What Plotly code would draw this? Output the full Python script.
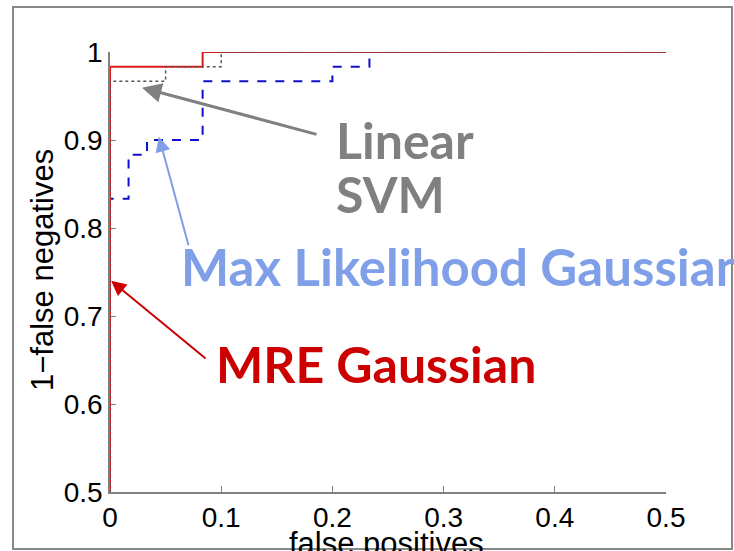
import plotly.graph_objects as go

# ROC step curves: false-positive rate vs. 1 - false-negative rate
fp_mle = [0, 0, 0.0167, 0.0333, 0.0833, 0.2, 0.2333, 0.5]
tp_mle = [0.5, 0.8333, 0.8833, 0.9, 0.9667, 0.9833, 1.0, 1.0]

fp_mre = [0, 0, 0.0833, 0.5]
tp_mre = [0.5, 0.9833, 1.0, 1.0]

fp_svm = [0, 0, 0.05, 0.1, 0.5]
tp_svm = [0.5, 0.9667, 0.9833, 1.0, 1.0]

x_ticks = [0, 0.1, 0.2, 0.3, 0.4, 0.5]
x_tick_labels = ["0", "0.1", "0.2", "0.3", "0.4", "0.5"]
y_ticks = [0.5, 0.6, 0.7, 0.8, 0.9, 1.0]
y_tick_labels = ["0.5", "0.6", "0.7", "0.8", "0.9", "1"]

W, H = 734, 551
L, R, T, B = 110, 68, 52, 59
PW, PH = W - L - R, H - T - B


def px_to_paper(px, py):
    return (px - L) / PW, (H - B - py) / PH


fig = go.Figure()
fig.add_trace(go.Scatter(x=fp_mle, y=tp_mle, mode="lines", line_shape="hv",
                         line=dict(color="#1010cc", width=2, dash="dash"),
                         name="Max Likelihood Gaussian"))
fig.add_trace(go.Scatter(x=fp_mre, y=tp_mre, mode="lines", line_shape="hv",
                         line=dict(color="#dd1a1a", width=2),
                         name="MRE Gaussian"))
fig.add_trace(go.Scatter(x=fp_svm, y=tp_svm, mode="lines", line_shape="hv",
                         line=dict(color="#555555", width=1.5, dash="dot"),
                         name="Linear SVM"))

label_font = "Lato"
annotations = [
    # callout labels
    dict(x=0.2013, y=0.9367, xref="x", yref="y", text="<b>Linear</b>",
         showarrow=False, xanchor="left", yanchor="top",
         font=dict(family=label_font, size=50, color="#808080")),
    dict(x=0.2013, y=0.8753, xref="x", yref="y", text="<b>SVM</b>",
         showarrow=False, xanchor="left", yanchor="top",
         font=dict(family=label_font, size=50, color="#808080")),
    dict(x=0.062, y=0.7935, xref="x", yref="y", text="<b>Max Likelihood Gaussian</b>",
         showarrow=False, xanchor="left", yanchor="top",
         font=dict(family=label_font, size=51, color="#7f9fe8")),
    dict(x=0.0935, y=0.682, xref="x", yref="y", text="<b>MRE Gaussian</b>",
         showarrow=False, xanchor="left", yanchor="top",
         font=dict(family=label_font, size=50, color="#cc0000")),
    # arrows pointing at the curves
    dict(x=0.0288, y=0.9594, xref="x", yref="y", text="", showarrow=True,
         ax=176, ay=47, arrowhead=2, arrowsize=1.3, arrowwidth=3, arrowcolor="#808080"),
    dict(x=0.044, y=0.9037, xref="x", yref="y", text="", showarrow=True,
         ax=30, ay=110, arrowhead=2, arrowsize=1.5, arrowwidth=2, arrowcolor="#7f9fe8"),
    dict(x=0.001, y=0.740, xref="x", yref="y", text="", showarrow=True,
         ax=96, ay=79, arrowhead=2, arrowsize=1.5, arrowwidth=2, arrowcolor="#cc0000"),
]

# axis titles
xt_x, xt_y = px_to_paper(386, 543)
annotations.append(dict(x=xt_x, y=xt_y, xref="paper", yref="paper", text="false positives",
                        showarrow=False, xanchor="center", yanchor="middle",
                        font=dict(family="Liberation Sans", size=31, color="black")))
yt_x, yt_y = px_to_paper(42, 270)
annotations.append(dict(x=yt_x, y=yt_y, xref="paper", yref="paper", text="1\u2212false negatives",
                        showarrow=False, xanchor="center", yanchor="middle", textangle=-90,
                        font=dict(family="Liberation Sans", size=31, color="black")))

# outer border of the figure
fx0, fy0 = px_to_paper(13, 549)
fx1, fy1 = px_to_paper(732, 7)

fig.update_layout(
    width=W, height=H, template="none",
    margin=dict(l=L, r=R, t=T, b=B, autoexpand=False),
    paper_bgcolor="white", plot_bgcolor="white",
    showlegend=False,
    font=dict(family="Liberation Sans", size=28, color="black"),
    xaxis=dict(range=[0, 0.5], tickvals=x_ticks, ticktext=x_tick_labels,
               ticks="inside", ticklen=6, tickcolor="#808080", tickwidth=1,
               showline=True, linecolor="#808080", linewidth=1.5,
               showgrid=False, zeroline=False, automargin=False, layer="below traces"),
    yaxis=dict(range=[0.5, 1.0], tickvals=y_ticks, ticktext=y_tick_labels,
               ticks="inside", ticklen=6, tickcolor="#808080", tickwidth=1,
               showline=True, linecolor="#808080", linewidth=1.5,
               showgrid=False, zeroline=False, automargin=False, layer="below traces"),
    annotations=annotations,
    shapes=[dict(type="rect", xref="paper", yref="paper", x0=fx0, y0=fy0, x1=fx1, y1=fy1,
                 line=dict(color="#888888", width=2), fillcolor="rgba(0,0,0,0)", layer="above")],
)

fig.write_html("out.html")
